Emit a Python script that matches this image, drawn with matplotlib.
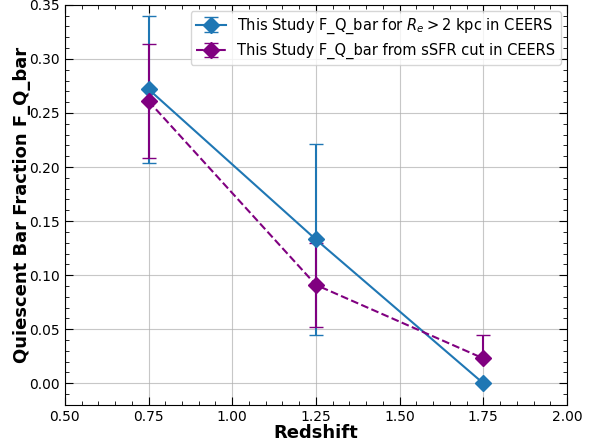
import matplotlib
matplotlib.use("Agg")
import matplotlib.pyplot as plt
from matplotlib.ticker import MultipleLocator

redshift = [0.75, 1.25, 1.75]

fq_re = [0.272, 0.133, 0.0]
fq_re_lo = [0.068, 0.088, 0.0]
fq_re_hi = [0.068, 0.088, 0.0]

fq_ssfr = [0.261, 0.091, 0.023]
fq_ssfr_lo = [0.053, 0.039, 0.0]
fq_ssfr_hi = [0.053, 0.039, 0.022]

fig = plt.figure(figsize=(6, 4.43), dpi=100)
ax = fig.add_axes([0.108, 0.086, 0.837, 0.903])

ax.errorbar(redshift, fq_re, yerr=[fq_re_lo, fq_re_hi], fmt='-D', color='#1f77b4',
            markersize=8, capsize=5, lw=1.5,
            label=r'This Study F_Q_bar for $R_e > 2$ kpc in CEERS')
ax.errorbar(redshift, fq_ssfr, yerr=[fq_ssfr_lo, fq_ssfr_hi], fmt='--D', color='purple',
            markersize=8, capsize=5, lw=1.5,
            label='This Study F_Q_bar from sSFR cut in CEERS')

ax.set_xlim(0.5, 2.0)
ax.set_ylim(-0.02, 0.35)
ax.xaxis.set_major_locator(MultipleLocator(0.25))
ax.xaxis.set_minor_locator(MultipleLocator(0.05))
ax.yaxis.set_major_locator(MultipleLocator(0.05))
ax.yaxis.set_minor_locator(MultipleLocator(0.01))
ax.tick_params(which='both', direction='in', top=True, right=True, labelsize=10)
ax.tick_params(which='major', length=6)
ax.tick_params(which='minor', length=3)
ax.grid(True, color='#b0b0b0', alpha=0.7, lw=0.8)
ax.set_axisbelow(True)

ax.set_xlabel('Redshift', fontsize=13, fontweight='bold', labelpad=0)
ax.set_ylabel('Quiescent Bar Fraction F_Q_bar', fontsize=13, fontweight='bold')
ax.yaxis.set_label_coords(-0.068, 0.5)
ax.legend(loc='upper right', fontsize=10.5, borderaxespad=0.4)

fig.savefig('out.png', dpi=100)
